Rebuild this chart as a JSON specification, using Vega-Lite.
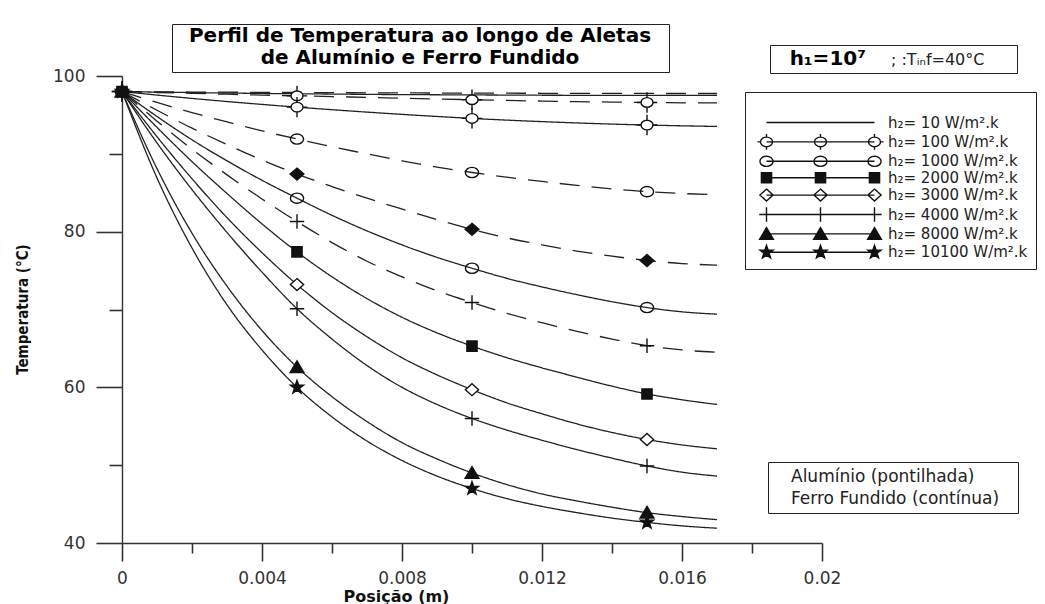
{
"$schema": "https://vega.github.io/schema/vega-lite/v6.json",
"width": 700, "height": 467, "autosize": "none",
"padding": {"left": 122, "top": 76, "right": 223, "bottom": 61},
"background": "white",
"config": {"view": {"stroke": null}, "font": "DejaVu Sans"},
"data": {"values": [
{"m":"Al","h":10,"x":0,"T":98},{"m":"Al","h":10,"x":0.001,"T":97.97},{"m":"Al","h":10,"x":0.002,"T":97.94},{"m":"Al","h":10,"x":0.003,"T":97.92},{"m":"Al","h":10,"x":0.004,"T":97.9},{"m":"Al","h":10,"x":0.005,"T":97.88},{"m":"Al","h":10,"x":0.006,"T":97.86},{"m":"Al","h":10,"x":0.007,"T":97.84},{"m":"Al","h":10,"x":0.008,"T":97.83},{"m":"Al","h":10,"x":0.009,"T":97.81},{"m":"Al","h":10,"x":0.01,"T":97.8},{"m":"Al","h":10,"x":0.011,"T":97.79},{"m":"Al","h":10,"x":0.012,"T":97.78},{"m":"Al","h":10,"x":0.013,"T":97.77},{"m":"Al","h":10,"x":0.014,"T":97.76},{"m":"Al","h":10,"x":0.015,"T":97.76},{"m":"Al","h":10,"x":0.016,"T":97.75},{"m":"Al","h":10,"x":0.017,"T":97.75},
{"m":"Al","h":100,"x":0,"T":98},{"m":"Al","h":100,"x":0.001,"T":97.88},{"m":"Al","h":100,"x":0.002,"T":97.77},{"m":"Al","h":100,"x":0.003,"T":97.66},{"m":"Al","h":100,"x":0.004,"T":97.55},{"m":"Al","h":100,"x":0.005,"T":97.45},{"m":"Al","h":100,"x":0.006,"T":97.35},{"m":"Al","h":100,"x":0.007,"T":97.25},{"m":"Al","h":100,"x":0.008,"T":97.15},{"m":"Al","h":100,"x":0.009,"T":97.05},{"m":"Al","h":100,"x":0.01,"T":96.95},{"m":"Al","h":100,"x":0.011,"T":96.86},{"m":"Al","h":100,"x":0.012,"T":96.78},{"m":"Al","h":100,"x":0.013,"T":96.71},{"m":"Al","h":100,"x":0.014,"T":96.65},{"m":"Al","h":100,"x":0.015,"T":96.6},{"m":"Al","h":100,"x":0.016,"T":96.56},{"m":"Al","h":100,"x":0.017,"T":96.54},
{"m":"Al","h":1000,"x":0,"T":98},{"m":"Al","h":1000,"x":0.001,"T":96.6},{"m":"Al","h":1000,"x":0.002,"T":95.3},{"m":"Al","h":1000,"x":0.003,"T":94.1},{"m":"Al","h":1000,"x":0.004,"T":92.95},{"m":"Al","h":1000,"x":0.005,"T":91.9},{"m":"Al","h":1000,"x":0.006,"T":90.9},{"m":"Al","h":1000,"x":0.007,"T":90},{"m":"Al","h":1000,"x":0.008,"T":89.1},{"m":"Al","h":1000,"x":0.009,"T":88.3},{"m":"Al","h":1000,"x":0.01,"T":87.6},{"m":"Al","h":1000,"x":0.011,"T":87},{"m":"Al","h":1000,"x":0.012,"T":86.45},{"m":"Al","h":1000,"x":0.013,"T":85.95},{"m":"Al","h":1000,"x":0.014,"T":85.5},{"m":"Al","h":1000,"x":0.015,"T":85.15},{"m":"Al","h":1000,"x":0.016,"T":84.9},{"m":"Al","h":1000,"x":0.017,"T":84.75},
{"m":"Al","h":2000,"x":0,"T":98},{"m":"Al","h":2000,"x":0.001,"T":95.6},{"m":"Al","h":2000,"x":0.002,"T":93.3},{"m":"Al","h":2000,"x":0.003,"T":91.2},{"m":"Al","h":2000,"x":0.004,"T":89.2},{"m":"Al","h":2000,"x":0.005,"T":87.4},{"m":"Al","h":2000,"x":0.006,"T":85.8},{"m":"Al","h":2000,"x":0.007,"T":84.3},{"m":"Al","h":2000,"x":0.008,"T":82.9},{"m":"Al","h":2000,"x":0.009,"T":81.55},{"m":"Al","h":2000,"x":0.01,"T":80.3},{"m":"Al","h":2000,"x":0.011,"T":79.2},{"m":"Al","h":2000,"x":0.012,"T":78.3},{"m":"Al","h":2000,"x":0.013,"T":77.5},{"m":"Al","h":2000,"x":0.014,"T":76.85},{"m":"Al","h":2000,"x":0.015,"T":76.3},{"m":"Al","h":2000,"x":0.016,"T":75.9},{"m":"Al","h":2000,"x":0.017,"T":75.7},
{"m":"Al","h":4000,"x":0,"T":98},{"m":"Al","h":4000,"x":0.001,"T":94.2},{"m":"Al","h":4000,"x":0.002,"T":90.6},{"m":"Al","h":4000,"x":0.003,"T":87.3},{"m":"Al","h":4000,"x":0.004,"T":84.2},{"m":"Al","h":4000,"x":0.005,"T":81.3},{"m":"Al","h":4000,"x":0.006,"T":78.6},{"m":"Al","h":4000,"x":0.007,"T":76.2},{"m":"Al","h":4000,"x":0.008,"T":74.2},{"m":"Al","h":4000,"x":0.009,"T":72.4},{"m":"Al","h":4000,"x":0.01,"T":70.9},{"m":"Al","h":4000,"x":0.011,"T":69.5},{"m":"Al","h":4000,"x":0.012,"T":68.3},{"m":"Al","h":4000,"x":0.013,"T":67.2},{"m":"Al","h":4000,"x":0.014,"T":66.2},{"m":"Al","h":4000,"x":0.015,"T":65.35},{"m":"Al","h":4000,"x":0.016,"T":64.8},{"m":"Al","h":4000,"x":0.017,"T":64.5},
{"m":"Fe","h":10,"x":0,"T":98},{"m":"Fe","h":10,"x":0.001,"T":97.93},{"m":"Fe","h":10,"x":0.002,"T":97.87},{"m":"Fe","h":10,"x":0.003,"T":97.81},{"m":"Fe","h":10,"x":0.004,"T":97.76},{"m":"Fe","h":10,"x":0.005,"T":97.72},{"m":"Fe","h":10,"x":0.006,"T":97.68},{"m":"Fe","h":10,"x":0.007,"T":97.64},{"m":"Fe","h":10,"x":0.008,"T":97.61},{"m":"Fe","h":10,"x":0.009,"T":97.59},{"m":"Fe","h":10,"x":0.01,"T":97.57},{"m":"Fe","h":10,"x":0.011,"T":97.55},{"m":"Fe","h":10,"x":0.012,"T":97.53},{"m":"Fe","h":10,"x":0.013,"T":97.52},{"m":"Fe","h":10,"x":0.014,"T":97.51},{"m":"Fe","h":10,"x":0.015,"T":97.5},{"m":"Fe","h":10,"x":0.016,"T":97.5},{"m":"Fe","h":10,"x":0.017,"T":97.5},
{"m":"Fe","h":100,"x":0,"T":98},{"m":"Fe","h":100,"x":0.001,"T":97.55},{"m":"Fe","h":100,"x":0.002,"T":97.12},{"m":"Fe","h":100,"x":0.003,"T":96.72},{"m":"Fe","h":100,"x":0.004,"T":96.35},{"m":"Fe","h":100,"x":0.005,"T":96},{"m":"Fe","h":100,"x":0.006,"T":95.67},{"m":"Fe","h":100,"x":0.007,"T":95.36},{"m":"Fe","h":100,"x":0.008,"T":95.07},{"m":"Fe","h":100,"x":0.009,"T":94.8},{"m":"Fe","h":100,"x":0.01,"T":94.55},{"m":"Fe","h":100,"x":0.011,"T":94.33},{"m":"Fe","h":100,"x":0.012,"T":94.14},{"m":"Fe","h":100,"x":0.013,"T":93.97},{"m":"Fe","h":100,"x":0.014,"T":93.82},{"m":"Fe","h":100,"x":0.015,"T":93.7},{"m":"Fe","h":100,"x":0.016,"T":93.6},{"m":"Fe","h":100,"x":0.017,"T":93.52},
{"m":"Fe","h":1000,"x":0,"T":98},{"m":"Fe","h":1000,"x":0.001,"T":94.8},{"m":"Fe","h":1000,"x":0.002,"T":91.8},{"m":"Fe","h":1000,"x":0.003,"T":89.1},{"m":"Fe","h":1000,"x":0.004,"T":86.6},{"m":"Fe","h":1000,"x":0.005,"T":84.3},{"m":"Fe","h":1000,"x":0.006,"T":82.1},{"m":"Fe","h":1000,"x":0.007,"T":80.1},{"m":"Fe","h":1000,"x":0.008,"T":78.3},{"m":"Fe","h":1000,"x":0.009,"T":76.7},{"m":"Fe","h":1000,"x":0.01,"T":75.3},{"m":"Fe","h":1000,"x":0.011,"T":74},{"m":"Fe","h":1000,"x":0.012,"T":72.9},{"m":"Fe","h":1000,"x":0.013,"T":71.9},{"m":"Fe","h":1000,"x":0.014,"T":71},{"m":"Fe","h":1000,"x":0.015,"T":70.25},{"m":"Fe","h":1000,"x":0.016,"T":69.7},{"m":"Fe","h":1000,"x":0.017,"T":69.4},
{"m":"Fe","h":2000,"x":0,"T":98},{"m":"Fe","h":2000,"x":0.001,"T":93.4},{"m":"Fe","h":2000,"x":0.002,"T":89},{"m":"Fe","h":2000,"x":0.003,"T":84.9},{"m":"Fe","h":2000,"x":0.004,"T":81},{"m":"Fe","h":2000,"x":0.005,"T":77.4},{"m":"Fe","h":2000,"x":0.006,"T":74.2},{"m":"Fe","h":2000,"x":0.007,"T":71.4},{"m":"Fe","h":2000,"x":0.008,"T":69},{"m":"Fe","h":2000,"x":0.009,"T":67},{"m":"Fe","h":2000,"x":0.01,"T":65.3},{"m":"Fe","h":2000,"x":0.011,"T":63.8},{"m":"Fe","h":2000,"x":0.012,"T":62.5},{"m":"Fe","h":2000,"x":0.013,"T":61.3},{"m":"Fe","h":2000,"x":0.014,"T":60.15},{"m":"Fe","h":2000,"x":0.015,"T":59.15},{"m":"Fe","h":2000,"x":0.016,"T":58.4},{"m":"Fe","h":2000,"x":0.017,"T":57.8},
{"m":"Fe","h":3000,"x":0,"T":98},{"m":"Fe","h":3000,"x":0.001,"T":92.2},{"m":"Fe","h":3000,"x":0.002,"T":86.8},{"m":"Fe","h":3000,"x":0.003,"T":81.8},{"m":"Fe","h":3000,"x":0.004,"T":77.3},{"m":"Fe","h":3000,"x":0.005,"T":73.2},{"m":"Fe","h":3000,"x":0.006,"T":69.6},{"m":"Fe","h":3000,"x":0.007,"T":66.5},{"m":"Fe","h":3000,"x":0.008,"T":63.8},{"m":"Fe","h":3000,"x":0.009,"T":61.6},{"m":"Fe","h":3000,"x":0.01,"T":59.7},{"m":"Fe","h":3000,"x":0.011,"T":58},{"m":"Fe","h":3000,"x":0.012,"T":56.6},{"m":"Fe","h":3000,"x":0.013,"T":55.3},{"m":"Fe","h":3000,"x":0.014,"T":54.2},{"m":"Fe","h":3000,"x":0.015,"T":53.3},{"m":"Fe","h":3000,"x":0.016,"T":52.6},{"m":"Fe","h":3000,"x":0.017,"T":52.1},
{"m":"Fe","h":4000,"x":0,"T":98},{"m":"Fe","h":4000,"x":0.001,"T":91.4},{"m":"Fe","h":4000,"x":0.002,"T":85.4},{"m":"Fe","h":4000,"x":0.003,"T":79.9},{"m":"Fe","h":4000,"x":0.004,"T":74.8},{"m":"Fe","h":4000,"x":0.005,"T":70.1},{"m":"Fe","h":4000,"x":0.006,"T":66.2},{"m":"Fe","h":4000,"x":0.007,"T":62.8},{"m":"Fe","h":4000,"x":0.008,"T":60},{"m":"Fe","h":4000,"x":0.009,"T":57.8},{"m":"Fe","h":4000,"x":0.01,"T":56},{"m":"Fe","h":4000,"x":0.011,"T":54.5},{"m":"Fe","h":4000,"x":0.012,"T":53.2},{"m":"Fe","h":4000,"x":0.013,"T":52},{"m":"Fe","h":4000,"x":0.014,"T":50.9},{"m":"Fe","h":4000,"x":0.015,"T":49.9},{"m":"Fe","h":4000,"x":0.016,"T":49.1},{"m":"Fe","h":4000,"x":0.017,"T":48.6},
{"m":"Fe","h":8000,"x":0,"T":98},{"m":"Fe","h":8000,"x":0.001,"T":88.1},{"m":"Fe","h":8000,"x":0.002,"T":79.8},{"m":"Fe","h":8000,"x":0.003,"T":73},{"m":"Fe","h":8000,"x":0.004,"T":67.3},{"m":"Fe","h":8000,"x":0.005,"T":62.6},{"m":"Fe","h":8000,"x":0.006,"T":58.8},{"m":"Fe","h":8000,"x":0.007,"T":55.6},{"m":"Fe","h":8000,"x":0.008,"T":52.9},{"m":"Fe","h":8000,"x":0.009,"T":50.8},{"m":"Fe","h":8000,"x":0.01,"T":49},{"m":"Fe","h":8000,"x":0.011,"T":47.5},{"m":"Fe","h":8000,"x":0.012,"T":46.3},{"m":"Fe","h":8000,"x":0.013,"T":45.4},{"m":"Fe","h":8000,"x":0.014,"T":44.6},{"m":"Fe","h":8000,"x":0.015,"T":43.9},{"m":"Fe","h":8000,"x":0.016,"T":43.4},{"m":"Fe","h":8000,"x":0.017,"T":43},
{"m":"Fe","h":10100,"x":0,"T":98},{"m":"Fe","h":10100,"x":0.001,"T":86.9},{"m":"Fe","h":10100,"x":0.002,"T":77.9},{"m":"Fe","h":10100,"x":0.003,"T":70.6},{"m":"Fe","h":10100,"x":0.004,"T":64.8},{"m":"Fe","h":10100,"x":0.005,"T":60},{"m":"Fe","h":10100,"x":0.006,"T":56.2},{"m":"Fe","h":10100,"x":0.007,"T":53.1},{"m":"Fe","h":10100,"x":0.008,"T":50.6},{"m":"Fe","h":10100,"x":0.009,"T":48.6},{"m":"Fe","h":10100,"x":0.01,"T":47},{"m":"Fe","h":10100,"x":0.011,"T":45.7},{"m":"Fe","h":10100,"x":0.012,"T":44.7},{"m":"Fe","h":10100,"x":0.013,"T":43.9},{"m":"Fe","h":10100,"x":0.014,"T":43.2},{"m":"Fe","h":10100,"x":0.015,"T":42.65},{"m":"Fe","h":10100,"x":0.016,"T":42.2},{"m":"Fe","h":10100,"x":0.017,"T":41.9}
]},
"encoding": {
  "x": {"field": "x", "type": "quantitative",
    "scale": {"domain": [0, 0.02], "nice": false, "zero": false},
    "axis": {"title": "Posição (m)", "grid": false,
      "values": [0,0.002,0.004,0.006,0.008,0.01,0.012,0.014,0.016,0.018,0.02],
      "format": "~g",
      "labelExpr": "round(datum.value*1000) % 4 == 0 ? datum.label : ''",
      "tickSize": {"condition": {"test": "round(datum.value*1000) % 4 != 0", "value": 10}, "value": 18},
      "tickColor": "#333", "tickWidth": 1.6, "domainColor": "#333", "domainWidth": 1.4,
      "labelFont": "DejaVu Sans", "labelFontSize": 17, "labelColor": "#333", "labelPadding": 9,
      "labelFlush": false, "labelOverlap": false, "labelBound": false,
      "titleFont": "DejaVu Sans", "titleFontSize": 16, "titleFontWeight": "bold", "titleColor": "#111",
      "titleX": 274, "titleY": 58, "titleAlign": "center", "titleBaseline": "alphabetic"}},
  "y": {"field": "T", "type": "quantitative",
    "scale": {"domain": [40, 100], "nice": false, "zero": false},
    "axis": {"title": "Temperatura (°C)", "grid": false,
      "values": [40,50,60,70,80,90,100],
      "labelExpr": "round(datum.value) % 20 == 0 ? datum.label : ''",
      "tickSize": {"condition": {"test": "indexof([50, 70, 90], round(datum.value)) >= 0", "value": 13}, "value": 26},
      "tickColor": "#333", "tickWidth": 1.6, "domainColor": "#333", "domainWidth": 1.4,
      "labelFont": "DejaVu Sans", "labelFontSize": 17, "labelColor": "#333", "labelPadding": 11,
      "labelFlush": false, "labelOverlap": false,
      "titleFont": "Liberation Sans Narrow, DejaVu Sans Condensed, Liberation Sans", "titleFontSize": 15, "titleFontWeight": "bold", "titleColor": "#111",
      "titleX": -100, "titleY": 233, "titleAlign": "center", "titleBaseline": "middle", "titleAngle": -90}}
},
"layer": [
  {"transform": [{"filter": "datum.m == 'Al'"}],
   "mark": {"type": "line", "interpolate": "monotone", "strokeWidth": 1.3},
   "encoding": {
     "detail": {"field": "h", "type": "nominal"},
     "strokeDash": {"field": "m", "type": "nominal", "scale": {"domain": ["Al", "Fe"], "range": [[20, 12], [1, 0]]},
       "legend": {"orient": "none", "legendX": 646, "legendY": 386, "title": null,
         "labelExpr": "datum.value == 'Al' ? 'Alumínio (pontilhada)' : 'Ferro Fundido (contínua)⠀'",
         "labelFont": "DejaVu Sans", "labelFontSize": 17, "labelColor": "#222", "labelOffset": 0, "labelLimit": 400,
         "symbolSize": 0, "symbolOpacity": 0, "symbolStrokeWidth": 0, "rowPadding": 4, "padding": 6,
         "strokeColor": "#222", "fillColor": "white",
         "encode": {"legend": {"strokeWidth": {"value": 1.5}}}}},
     "stroke": {"field": "m", "type": "nominal", "scale": {"domain": ["Al"], "range": ["#222"]},
       "legend": {"orient": "none", "legendX": 50, "legendY": -52,
         "title": ["Perfil de Temperatura ao longo de Aletas", "de Alumínio e Ferro Fundido"],
         "titleFont": "DejaVu Sans", "titleFontSize": 20, "titleFontWeight": "bold", "titleColor": "#000",
         "titleAlign": "center", "titleAnchor": "middle", "titleLineHeight": 22, "titlePadding": 0, "titleLimit": 1000,
         "labelExpr": "pad('', 248, 'W')", "labelFont": "DejaVu Sans", "labelFontSize": 2, "labelOpacity": 0, "labelOffset": 0, "labelLimit": 2000,
         "symbolSize": 0, "symbolOpacity": 0, "padding": 2,
         "strokeColor": "#222", "fillColor": "white",
         "encode": {"legend": {"strokeWidth": {"value": 2}}}}}
   }},
  {"transform": [{"filter": "datum.m == 'Fe'"}],
   "mark": {"type": "line", "interpolate": "monotone", "strokeWidth": 1.3},
   "encoding": {
     "detail": {"field": "h", "type": "nominal"},
     "strokeDash": {"field": "m", "type": "nominal", "scale": {"domain": ["Al", "Fe"], "range": [[20, 12], [1, 0]]}},
     "stroke": {"field": "m", "type": "nominal", "scale": {"domain": ["Fe"], "range": ["#222"]},
       "legend": {"orient": "none", "legendX": 648, "legendY": -31, "direction": "horizontal",
         "title": "⠀h₁=10⁷", "titleOrient": "left", "titleFont": "DejaVu Sans", "titleFontSize": 20, "titleFontWeight": "bold", "titleColor": "#000", "titlePadding": 2, "titleLimit": 300,
         "labelExpr": "';  :Tᵢₙf=40°C⠀⠀'", "labelFont": "DejaVu Sans", "labelFontSize": 16, "labelColor": "#222", "labelOffset": 1, "labelLimit": 400,
         "symbolSize": 400, "symbolOpacity": 0, "padding": 4,
         "strokeColor": "#222", "fillColor": "white",
         "encode": {"legend": {"strokeWidth": {"value": 1.5}}}}}
   }},
  {"transform": [{"filter": "datum.m == 'Al' && datum.h != 10 && (datum.x == 0 || datum.x == 0.005 || datum.x == 0.01 || datum.x == 0.015)"}],
   "mark": {"type": "point", "filled": true, "size": 144, "stroke": "#111", "strokeWidth": 1.4, "opacity": 1},
   "encoding": {
     "shape": {"field": "h", "type": "nominal",
       "scale": {"domain": [100, 1000, 2000, 4000],
         "range": ["M1,0A1,0.8 0 1,1 -1,0A1,0.8 0 1,1 1,0ZM0,-1.7V-0.8M0,0.8V1.7M-1.7,0H-1M1,0H1.7",
                   "M1.1,0A1.1,0.85 0 1,1 -1.1,0A1.1,0.85 0 1,1 1.1,0Z",
                   "M0,-1L1.15,0L0,1L-1.15,0Z",
                   "M-1.2,0H1.2M0,-1.2V1.2"]},
       "legend": null},
     "fill": {"field": "h", "type": "nominal",
       "scale": {"domain": [100, 1000, 2000, 4000], "range": ["white", "transparent", "#111", "transparent"]},
       "legend": null}
   }},
  {"transform": [{"filter": "datum.m == 'Fe' && datum.h != 10 && (datum.x == 0 || datum.x == 0.005 || datum.x == 0.01 || datum.x == 0.015)"}],
   "mark": {"type": "point", "filled": true, "size": 144, "stroke": "#111", "strokeWidth": 1.4, "opacity": 1},
   "encoding": {
     "shape": {"field": "h", "type": "nominal",
       "scale": {"domain": [100, 1000, 2000, 3000, 4000, 8000, 10100],
         "range": ["M1,0A1,0.8 0 1,1 -1,0A1,0.8 0 1,1 1,0ZM0,-1.7V-0.8M0,0.8V1.7M-1.7,0H-1M1,0H1.7",
                   "M1.1,0A1.1,0.85 0 1,1 -1.1,0A1.1,0.85 0 1,1 1.1,0Z",
                   "M-0.85,-0.85H0.85V0.85H-0.85Z",
                   "M0,-1L1.1,0L0,1L-1.1,0Z",
                   "M-1.2,0H1.2M0,-1.2V1.2",
                   "M0,-1.05L1.15,0.9H-1.15Z",
                   "M0,-1.15L0.27,-0.372L1.094,-0.355L0.437,0.142L0.676,0.93L0,0.46L-0.676,0.93L-0.437,0.142L-1.094,-0.355L-0.27,-0.372Z"]},
       "legend": null},
     "fill": {"field": "h", "type": "nominal",
       "scale": {"domain": [100, 1000, 2000, 3000, 4000, 8000, 10100], "range": ["white", "transparent", "#111", "white", "transparent", "#111", "#111"]},
       "legend": null}
   }},
  {"transform": [{"filter": "datum.x < 0"}],
   "mark": {"type": "point", "filled": true, "size": 144, "stroke": "#111", "strokeWidth": 1.4, "opacity": 1},
   "encoding": {
     "shape": {"field": "h", "type": "nominal",
       "scale": {"domain": [10, 100, 1000, 2000, 3000, 4000, 8000, 10100],
         "range": [
           "M1,0H19",
           "M1,0H19M2,0A1,0.8 0 1,1 0,0A1,0.8 0 1,1 2,0ZM1,-1.3V-0.8M1,0.8V1.3M-0.5,0H0M11,0A1,0.8 0 1,1 9,0A1,0.8 0 1,1 11,0ZM10,-1.3V-0.8M10,0.8V1.3M20,0A1,0.8 0 1,1 18,0A1,0.8 0 1,1 20,0ZM19,-1.3V-0.8M19,0.8V1.3M20,0H20.5",
           "M1,0H19M2.1,0A1.1,0.85 0 1,1 -0.1,0A1.1,0.85 0 1,1 2.1,0ZM11.1,0A1.1,0.85 0 1,1 8.9,0A1.1,0.85 0 1,1 11.1,0ZM20.1,0A1.1,0.85 0 1,1 17.9,0A1.1,0.85 0 1,1 20.1,0Z",
           "M1,0H19M0.15,-0.85H1.85V0.85H0.15ZM9.15,-0.85H10.85V0.85H9.15ZM18.15,-0.85H19.85V0.85H18.15Z",
           "M1,0H19M1,-1L2.1,0L1,1L-0.1,0ZM10,-1L11.1,0L10,1L8.9,0ZM19,-1L20.1,0L19,1L17.9,0Z",
           "M-0.2,0H20.2M1,-1.2V1.2M10,-1.2V1.2M19,-1.2V1.2",
           "M1,0H19M1,-1.05L2.15,0.9H-0.15ZM10,-1.05L11.15,0.9H8.85ZM19,-1.05L20.15,0.9H17.85Z",
           "M1,0H19M1,-1.15L1.27,-0.372L2.094,-0.355L1.437,0.142L1.676,0.93L1,0.46L0.324,0.93L0.563,0.142L-0.094,-0.355L0.73,-0.372ZM10,-1.15L10.27,-0.372L11.094,-0.355L10.437,0.142L10.676,0.93L10,0.46L9.324,0.93L9.563,0.142L8.906,-0.355L9.73,-0.372ZM19,-1.15L19.27,-0.372L20.094,-0.355L19.437,0.142L19.676,0.93L19,0.46L18.324,0.93L18.563,0.142L17.906,-0.355L18.73,-0.372Z"]},
       "legend": {"orient": "none", "legendX": 623, "legendY": 16, "title": " ", "titleFontSize": 12, "titlePadding": 3,
         "labelExpr": "'h₂= ' + datum.value + ' W/m².k'", "labelFont": "DejaVu Sans", "labelFontSize": 15, "labelColor": "#222", "labelOffset": 120, "labelLimit": 400,
         "symbolSize": 144, "symbolStrokeColor": "#111", "symbolStrokeWidth": 1.4, "symbolOpacity": 1,
         "rowPadding": -0.6, "padding": 8, "strokeColor": "#222", "fillColor": "white",
         "encode": {"legend": {"strokeWidth": {"value": 1.5}}}}},
     "fill": {"field": "h", "type": "nominal",
       "scale": {"domain": [10, 100, 1000, 2000, 3000, 4000, 8000, 10100], "range": ["transparent", "white", "transparent", "#111", "white", "transparent", "#111", "#111"]},
       "legend": {"orient": "none", "legendX": 623, "legendY": 16}},
     "stroke": {"field": "h", "type": "nominal",
       "scale": {"domain": [10, 100, 1000, 2000, 3000, 4000, 8000, 10100], "range": ["#111", "#111", "#111", "#111", "#111", "#111", "#111", "#111"]},
       "legend": {"orient": "none", "legendX": 623, "legendY": 16}}
   }}
],
"resolve": {"scale": {"shape": "independent", "stroke": "independent", "fill": "independent"}, "legend": {"shape": "independent", "stroke": "independent", "fill": "independent"}}
}
